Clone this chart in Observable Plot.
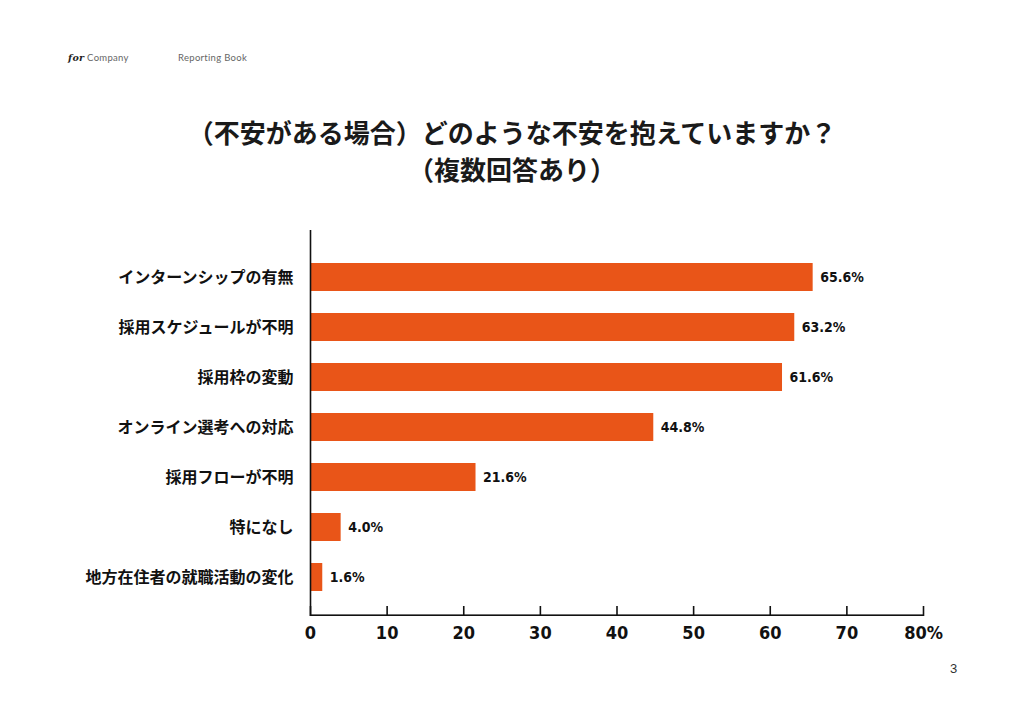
<!DOCTYPE html>
<html>
<head>
<meta charset="utf-8">
<script src="https://cdn.jsdelivr.net/npm/d3@7"></script>
<script src="https://cdn.jsdelivr.net/npm/@observablehq/plot@0.6"></script>
<style>
  html, body { margin: 0; padding: 0; background: #fff; }
  #page { position: relative; width: 1024px; height: 724px; overflow: hidden; font-family: "Noto Sans CJK JP", "Noto Sans", sans-serif; }
  .hdr { position: absolute; top: 52px; font-size: 9.5px; color: #666; font-family: "Lato", "Noto Sans", sans-serif; letter-spacing: 0.3px; }
  .hdr b { font-family: "DejaVu Serif", serif; font-style: italic; font-weight: bold; color: #222; }
  .title { position: absolute; left: 0; width: 1024px; text-align: center; font-weight: 700; font-size: 26px; color: #1a1a1a; line-height: 1; }
  #chart { position: absolute; left: 0; top: 220px; }
  #chart text { font-stretch: condensed; }
  .pnum { position: absolute; left: 950px; top: 661px; font-size: 13px; color: #333; font-family: "Liberation Sans", sans-serif; }
</style>
</head>
<body>
<div id="page">
  <div class="hdr" style="left:68px;"><b>for</b> Company</div>
  <div class="hdr" style="left:178px;">Reporting Book</div>
  <div class="title" style="top:119px;">（不安がある場合）どのような不安を抱えていますか？</div>
  <div class="title" style="top:156px;">（複数回答あり）</div>
  <div id="chart"></div>
  <div class="pnum">3</div>
</div>
<script>
const categories = [
  "インターンシップの有無",
  "採用スケジュールが不明",
  "採用枠の変動",
  "オンライン選考への対応",
  "採用フローが不明",
  "特になし",
  "地方在住者の就職活動の変化"
];
const values = [65.6, 63.2, 61.6, 44.8, 21.6, 4.0, 1.6];
const xTicks = [0, 10, 20, 30, 40, 50, 60, 70, 80];
const xTickLabels = ["0", "10", "20", "30", "40", "50", "60", "70", "80%"];

const data = categories.map((c, i) => ({category: c, value: values[i]}));
const ticks = xTicks.map((t, i) => ({t, label: xTickLabels[i]}));

const W = 1024, H = 436, mt = 10, mb = 40, ml = 310, mr = 101;
const frameH = H - mt - mb;
const numFont = "'DejaVu Sans', sans-serif";
const barColor = "#e95518";

const chart = Plot.plot({
  width: W,
  height: H,
  marginTop: mt,
  marginBottom: mb,
  marginLeft: ml,
  marginRight: mr,
  style: {background: "transparent", overflow: "visible"},
  x: {domain: [0, 80], axis: null},
  y: {domain: categories, range: [40, 373], paddingInner: 0.45, paddingOuter: 0, axis: null},
  marks: [
    Plot.barX(data, {x: "value", y: "category", fill: barColor}),
    Plot.text(data, {
      x: "value", y: "category",
      text: d => d.value.toFixed(1) + "%",
      textAnchor: "start", dx: 7,
      fontSize: 14, fontWeight: 700, fill: "#111",
      fontFamily: numFont
    }),
    Plot.text(data, {
      x: () => 0, y: "category", text: "category",
      textAnchor: "end", dx: -17,
      fontSize: 16, fontWeight: 700, fill: "#111",
      fontFamily: "'Noto Sans CJK JP', sans-serif"
    }),
    Plot.ruleX([0], {stroke: "#111", strokeWidth: 1.6}),
    Plot.rect([{a: 0, b: 80}], {x1: "a", x2: "b", insetTop: frameH - 1.6, fill: "#111"}),
    Plot.ruleX(ticks, {x: "t", insetTop: frameH - 10, stroke: "#111", strokeWidth: 1.6}),
    Plot.text(ticks, {
      x: "t", text: "label", frameAnchor: "bottom", dy: 22,
      fontSize: 18, fontWeight: 700, fill: "#111",
      fontFamily: numFont
    })
  ]
});
document.getElementById("chart").appendChild(chart);
</script>
</body>
</html>
